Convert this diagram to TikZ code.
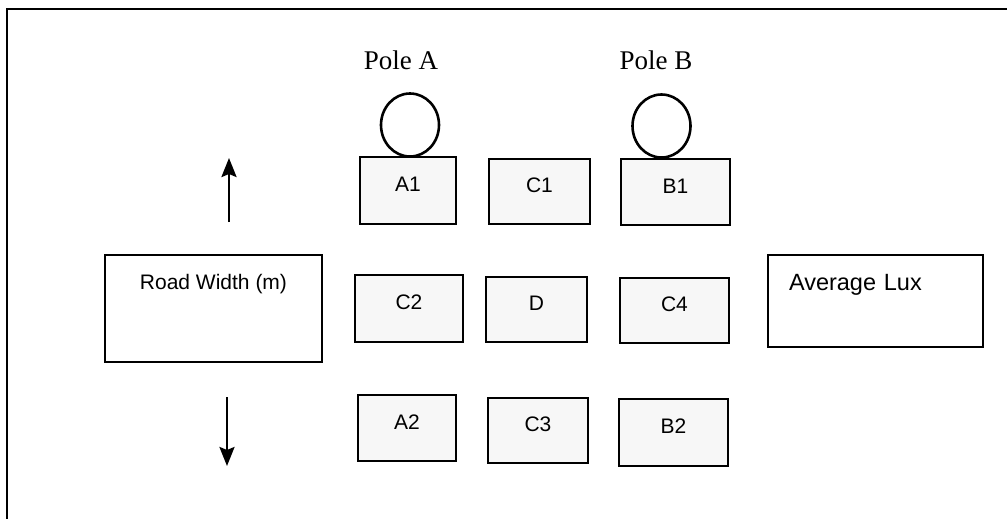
\documentclass[tikz,border=0pt]{standalone}
\usepackage{fontspec}
\setmainfont{Liberation Serif}
\setsansfont{Liberation Sans}
\usetikzlibrary{shapes.geometric,arrows.meta}
\tikzset{
  cell/.style={draw=black, line width=2.8pt, fill=black!3, rectangle, inner sep=0pt,
    font=\sffamily\fontsize{21}{21}\selectfont, text height=15pt, text depth=13pt},
  bigbox/.style={draw=black, line width=2.8pt, fill=white, rectangle, inner sep=0pt,
    font=\sffamily\fontsize{21}{21}\selectfont},
  pole/.style={draw=black, line width=2.6pt, ellipse, minimum width=58pt, minimum height=63pt, inner sep=0pt},
  poletext/.style={font=\rmfamily\fontsize{27}{27}\selectfont, inner sep=0pt},
  dirarrow/.style={line width=2.6pt, -{Stealth[length=19pt,width=15pt,inset=3pt]}},
  frame/.style={line width=2.8pt}
}
\begin{document}
\begin{tikzpicture}[x=1pt,y=-1pt]
\useasboundingbox (0,0) rectangle (1007,519);
% frame
\coordinate (fbl) at (7,519);
\coordinate (ftl) at (7,9);
\coordinate (ftr) at (1007,9);
\draw[frame] (fbl) -- (ftl) -- (ftr);
% pole labels
\node[poletext] (poleA) at (401,60) {Pole A};
\node[poletext] (poleB) at (656,60) {Pole B};
% poles
\node[pole] (cA) at (410,125) {};
\node[pole] (cB) at (661.5,126) {};
% grid cells
\node[cell, minimum width=96pt, minimum height=67pt] (A1) at (408,190.5) {A1};
\node[cell, minimum width=101pt, minimum height=65pt] (C1) at (539.5,191.5) {C1};
\node[cell, minimum width=109pt, minimum height=66pt] (B1) at (675.5,192) {B1};
\node[cell, minimum width=108pt, minimum height=67pt] (C2) at (409,308.5) {C2};
\node[cell, minimum width=101pt, minimum height=65pt] (D) at (536.5,309.5) {D};
\node[cell, minimum width=109pt, minimum height=65pt] (C4) at (674.5,310.5) {C4};
\node[cell, minimum width=98pt, minimum height=66pt] (A2) at (407,428) {A2};
\node[cell, minimum width=100pt, minimum height=65pt] (C3) at (538,430.5) {C3};
\node[cell, minimum width=109pt, minimum height=67pt] (B2) at (673.5,432.5) {B2};
% side boxes
\node[bigbox, minimum width=217pt, minimum height=107pt, text height=15pt, text depth=53pt] (road) at (213.5,308.5) {Road Width (m)};
\node[bigbox, font=\sffamily\fontsize{23.5}{23.5}\selectfont, minimum height=92pt, text width=173pt, inner xsep=21pt, align=left, text height=17pt, text depth=38pt] (lux) at (875.5,301) {Average Lux};
% arrows
\coordinate (upS) at (229,222);
\coordinate (upE) at (229,158);
\coordinate (dnS) at (227,397);
\coordinate (dnE) at (227,466);
\draw[dirarrow] (upS) -- (upE);
\draw[dirarrow] (dnS) -- (dnE);
\end{tikzpicture}
\end{document}
